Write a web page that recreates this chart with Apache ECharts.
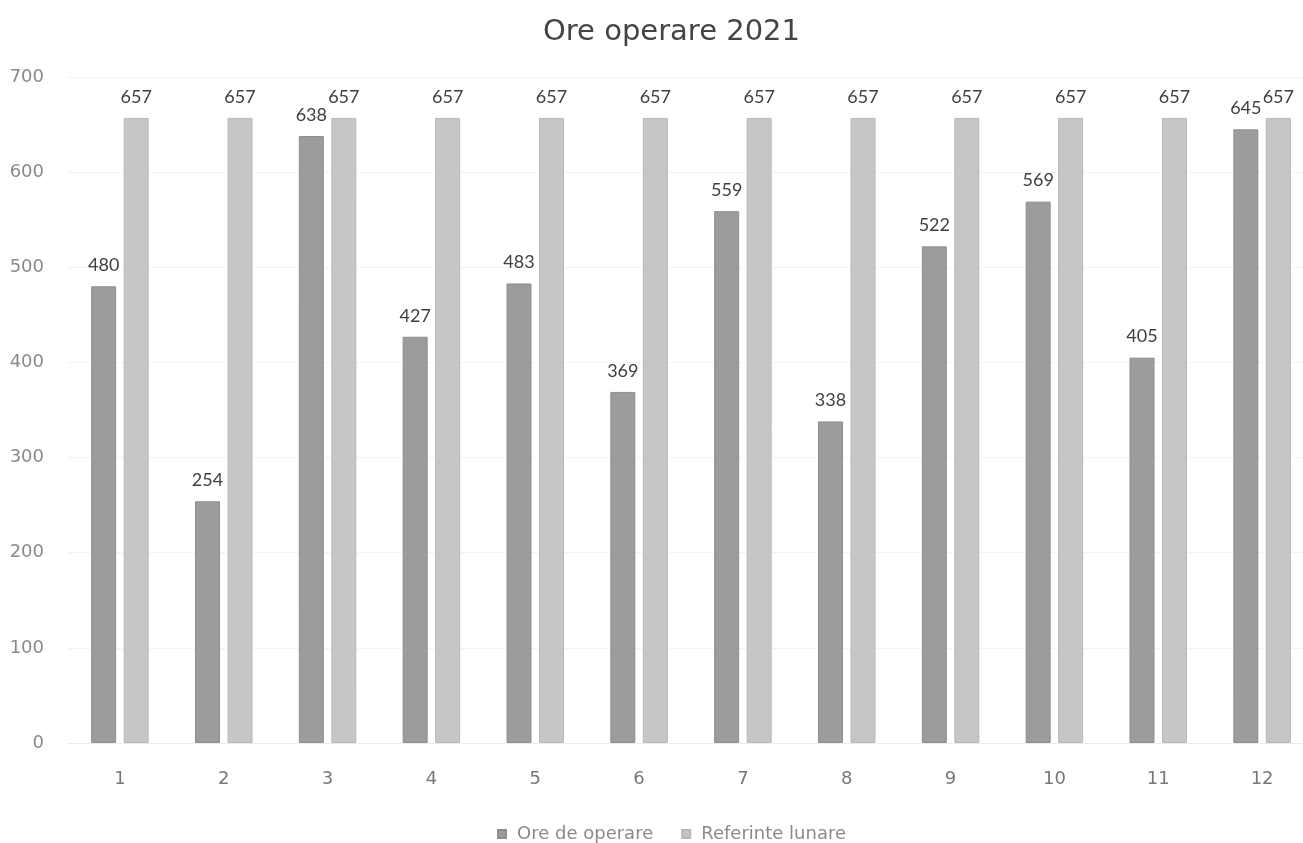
<!DOCTYPE html>
<html>
<head>
<meta charset="utf-8">
<script src="https://cdn.jsdelivr.net/npm/echarts@6/dist/echarts.min.js"></script>
<style>
  html, body { margin: 0; padding: 0; background: #fff; overflow: hidden; }
  /* the drawing area is a little wider than the window; its right edge is clipped */
  #chart { width: 1343px; height: 843px; }
</style>
</head>
<body>
<div id="chart"></div>
<script>
// Monthly operating hours for 2021 against the monthly reference
const months = ['1', '2', '3', '4', '5', '6', '7', '8', '9', '10', '11', '12'];
const oreOperare = [480, 254, 638, 427, 483, 369, 559, 338, 522, 569, 405, 645];
const referinteLunare = [657, 657, 657, 657, 657, 657, 657, 657, 657, 657, 657, 657];
const yTicks = [0, 100, 200, 300, 400, 500, 600, 700];

const WIDE = '"DejaVu Sans", sans-serif';
const LABEL_FONT = 'Lato, "Open Sans", sans-serif';

const chart = echarts.init(document.getElementById('chart'), null, { renderer: 'canvas' });

const labelStyle = {
  show: true,
  position: 'top',
  distance: 12,
  color: '#3f3f3f',
  fontSize: 18,
  fontFamily: LABEL_FONT
};

chart.setOption({
  backgroundColor: '#ffffff',
  animation: false,
  title: {
    text: 'Ore operare 2021',
    left: 'center',
    top: 13,
    textStyle: { color: '#444', fontSize: 29, fontWeight: 'normal', fontFamily: WIDE }
  },
  legend: {
    bottom: -5,
    left: 'center',
    itemWidth: 8,
    itemHeight: 8,
    itemGap: 28,
    icon: 'rect',
    textStyle: { color: '#8a8a8a', fontSize: 18, fontFamily: WIDE, padding: [0, 0, 0, 6] },
    data: ['Ore de operare', 'Referinte lunare']
  },
  grid: { left: 68, right: 29, top: 77, bottom: 100 },
  xAxis: {
    type: 'category',
    data: months,
    axisLine: { show: true, lineStyle: { color: '#ececec' } },
    axisTick: { show: false },
    axisLabel: { color: '#777', fontSize: 18, margin: 27, fontFamily: WIDE }
  },
  yAxis: {
    type: 'value',
    min: yTicks[0],
    max: yTicks[yTicks.length - 1],
    interval: 100,
    axisLine: { show: false },
    axisTick: { show: false },
    splitLine: { lineStyle: { color: '#f3f3f3' } },
    axisLabel: { color: '#8a8a8a', fontSize: 18, margin: 24, fontFamily: WIDE }
  },
  series: [
    {
      name: 'Ore de operare',
      type: 'bar',
      data: oreOperare,
      barWidth: 25,
      barGap: '30%',
      itemStyle: { color: '#9c9c9c', borderColor: '#8e8e8e', borderWidth: 1 },
      label: labelStyle
    },
    {
      name: 'Referinte lunare',
      type: 'bar',
      data: referinteLunare,
      barWidth: 25,
      itemStyle: { color: '#c6c6c6', borderColor: '#b8b8b8', borderWidth: 1 },
      label: labelStyle
    }
  ]
});
</script>
</body>
</html>
